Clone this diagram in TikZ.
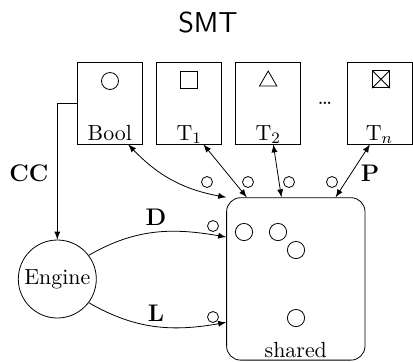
\documentclass[tikz,border=0pt,11pt]{standalone}
\usepackage{amssymb,amsmath}
\usetikzlibrary{shapes.geometric}

\begin{document}
\begin{tikzpicture}[x=0.5pt,y=0.5pt,>=latex,
        theory/.style={draw,minimum width=32.5pt,minimum height=41pt,inner sep=0pt},
        tlabel/.style={above,inner sep=2pt,text depth=0pt},
        msg/.style={circle,draw,minimum size=5.5pt,inner sep=0pt},
        term/.style={circle,draw,minimum size=8.6pt,inner sep=0pt},
        sym/.style={draw,minimum size=8.5pt,inner sep=0pt},
        edgelabel/.style={font=\large\bfseries}]

    \useasboundingbox (0,0) rectangle (413,-361);
    \node[font=\sffamily\Large] (smt) at (208,-22) {SMT};

    % theories
    \node[theory] (bool) at (109.8,-103) {};
    \node[theory] (t1) at (189.2,-103) {};
    \node[theory] (t2) at (268.2,-103) {};
    \node[theory] (tn) at (379.5,-103) {};
    \node[tlabel] at (bool.south) {Bool};
    \node[tlabel] at (t1.south) {T$_1$};
    \node[tlabel] at (t2.south) {T$_2$};
    \node[tlabel] at (tn.south) {T$_n$};
    \node (dots) at (325,-103) {\dots};

    \node[sym,circle] (sbool) at (110,-81) {};
    \node[sym] (st1) at (189.2,-79.5) {};
    \node[sym,regular polygon,regular polygon sides=3,minimum size=10pt] (st2) at (268.2,-81) {};
    \node[sym] (stn) at (381,-79.3) {};
    \draw (stn.north west) -- (stn.south east);
    \draw (stn.north east) -- (stn.south west);

    % shared store and engine
    \node[draw,rounded corners=7pt,minimum width=69.2pt,minimum height=81.2pt] (shared) at (295.8,-278.9) {};
    \node[above,inner sep=1.5pt,text depth=0pt] at (shared.south) {shared};
    \node[term] (a) at (244,-232) {};
    \node[term] (b) at (278,-232) {};
    \node[term] (c) at (296,-250) {};
    \node[term] (d) at (296,-318) {};

    \node[circle,draw,minimum size=39pt,inner sep=0pt] (engine) at (57.3,-279) {Engine};

    % messages
    \node[msg] (m1) at (207,-182) {};
    \node[msg] (m2) at (248,-182) {};
    \node[msg] (m3) at (289,-182) {};
    \node[msg] (m4) at (332,-182) {};
    \node[msg] (m5) at (213,-226) {};
    \node[msg] (m6) at (213,-317) {};

    \draw[->] (bool.west) -| (engine.north);
    \draw[<->] (bool.-66) to[bend right=18] (shared.north west);
    \draw[<->] (t1.-71) -- (shared.121);
    \draw[<->] (t2.-83) -- (shared.100);
    \draw[<->] (tn.-103) -- (shared.64);
    \draw[->] (engine.37) to[out=30,in=170] (shared.149);
    \draw[->] (engine.-37) to[out=-30,in=190] (shared.212);

    \node[edgelabel] (cc) at (29,-173) {CC};
    \node[edgelabel] (p) at (370,-173) {P};
    \node[edgelabel] (dlab) at (156,-217) {D};
    \node[edgelabel] (llab) at (156,-313) {L};
\end{tikzpicture}
\end{document}
